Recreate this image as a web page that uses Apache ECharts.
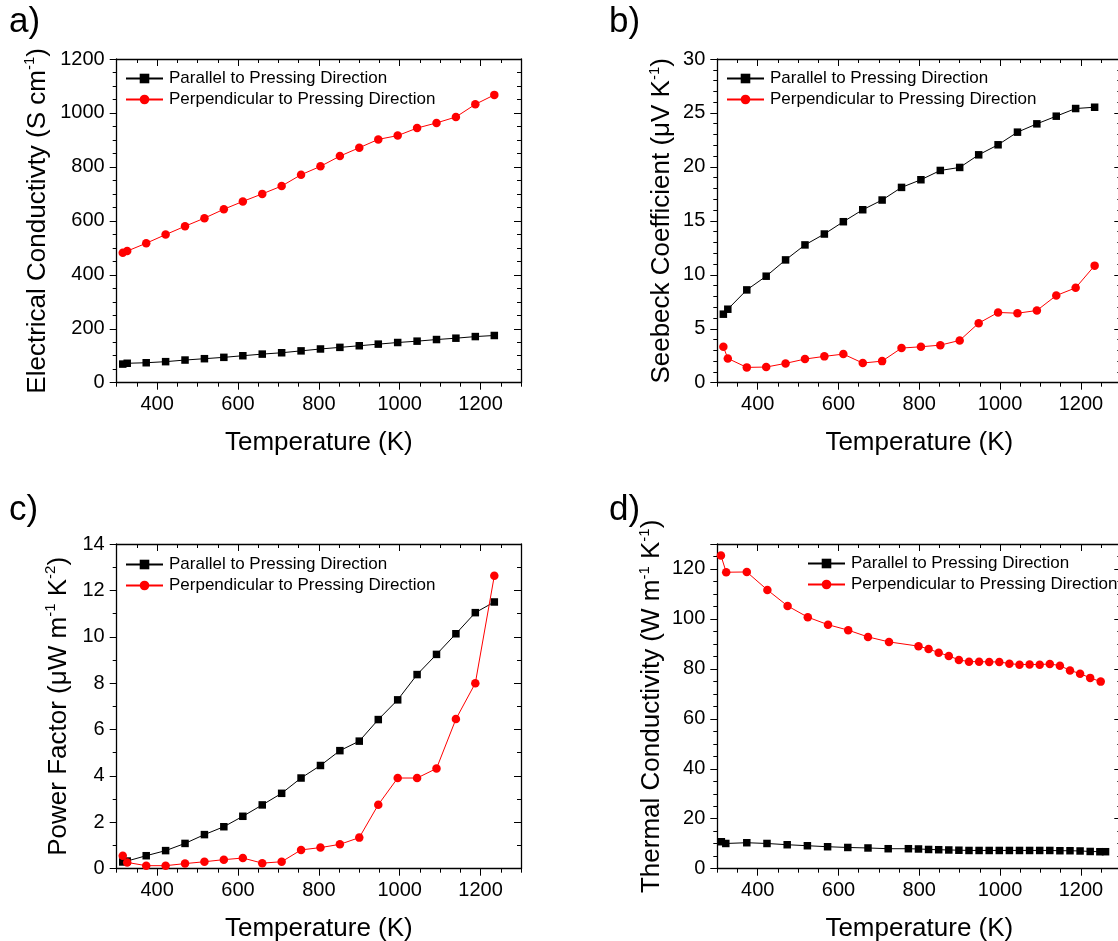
<!DOCTYPE html>
<html>
<head>
<meta charset="utf-8">
<script src="https://cdn.jsdelivr.net/npm/echarts@6/dist/echarts.min.js"></script>
<style>
html,body{margin:0;padding:0;background:#fff;}
#chart{width:1118px;height:941px;}
</style>
</head>
<body>
<div id="chart"></div>
<script>
// ---------- data ----------
var seriesNames = ['Parallel to Pressing Direction', 'Perpendicular to Pressing Direction'];
var xTickLabels = [400, 600, 800, 1000, 1200];

// temperatures (K) for panels a, b, c
var tempABC = [315, 326, 373, 421, 469, 517, 565, 612, 660, 708, 756, 804, 852, 900, 947, 995, 1043, 1091, 1139, 1187, 1234];

// a) electrical conductivity (S cm-1)
var condPar = [69, 72, 74, 78, 84, 89, 94, 100, 106, 111, 118, 125, 131, 137, 143, 149, 154, 160, 165, 171, 175];
var condPerp = [482, 488, 517, 549, 580, 610, 643, 672, 700, 729, 771, 802, 840, 871, 902, 916, 944, 963, 985, 1032, 1067];

// b) Seebeck coefficient (uV K-1)
var seebPar = [6.35, 6.81, 8.6, 9.87, 11.38, 12.77, 13.78, 14.92, 16.03, 16.93, 18.1, 18.81, 19.67, 19.95, 21.12, 22.05, 23.22, 23.99, 24.7, 25.41, 25.53];
var seebPerp = [3.33, 2.25, 1.42, 1.45, 1.79, 2.19, 2.44, 2.65, 1.82, 2.0, 3.21, 3.33, 3.48, 3.92, 5.52, 6.51, 6.44, 6.69, 8.08, 8.79, 10.85];

// c) power factor (uW m-1 K-2)
var pfPar = [0.29, 0.33, 0.56, 0.78, 1.09, 1.47, 1.81, 2.26, 2.75, 3.25, 3.91, 4.45, 5.09, 5.50, 6.43, 7.28, 8.37, 9.24, 10.13, 11.04, 11.5];
var pfPerp = [0.56, 0.27, 0.13, 0.13, 0.22, 0.30, 0.39, 0.46, 0.24, 0.30, 0.81, 0.91, 1.05, 1.34, 2.76, 3.91, 3.91, 4.32, 6.45, 8.0, 12.63];

// d) thermal conductivity (W m-1 K-1)
var tempDPar = [310, 321, 373, 423, 473, 523, 573, 623, 673, 723, 773, 798, 823, 848, 873, 898, 923, 948, 973, 998, 1023, 1048, 1073, 1098, 1123, 1148, 1173, 1198, 1223, 1247, 1261];
var kPar = [10.8, 10.1, 10.4, 10.1, 9.6, 9.2, 8.8, 8.5, 8.3, 8.0, 8.0, 7.9, 7.7, 7.6, 7.5, 7.4, 7.3, 7.3, 7.3, 7.3, 7.3, 7.3, 7.3, 7.3, 7.3, 7.2, 7.2, 7.1, 6.9, 6.8, 6.8];
var tempDPerp = [309, 322, 373, 424, 474, 524, 574, 624, 673, 725, 798, 823, 848, 873, 898, 923, 948, 973, 998, 1023, 1048, 1073, 1098, 1123, 1148, 1173, 1198, 1223, 1249];
var kPerp = [125.4, 118.7, 118.8, 111.6, 105.2, 100.7, 97.7, 95.5, 92.8, 90.8, 89.1, 88.0, 86.5, 85.2, 83.6, 82.9, 82.9, 82.8, 82.8, 82.1, 81.7, 81.8, 81.7, 82.0, 81.3, 79.4, 78.1, 76.4, 74.9];

var yTitles = [
  'Electrical Conductivty (S cm{sup|-1})',
  'Seebeck Coefficient (\u03bcV K{sup|-1})',
  'Power Factor (\u03bcW m{sup|-1} K{sup|-2})',
  'Thermal Conductivity (W m{sup|-1} K{sup|-1})'
];
var panelLabels = ['a)', 'b)', 'c)', 'd)'];

// ---------- layout ----------
var FONT = "'Liberation Sans', Arial, Helvetica, sans-serif";
var panels = [
  {left: 116.7, top: 59, width: 404.3, height: 323.7, ymax: 1200, yint: 200, ysplit: 4, nameGap: 64, legL: 125, legT: 70, lx: 9, ly: 25},
  {left: 717.3, top: 59, width: 404, height: 323.7, ymax: 30, yint: 5, ysplit: 5, nameGap: 40, legL: 726, legT: 70, lx: 609, ly: 25},
  {left: 116.7, top: 544, width: 404.3, height: 324.7, ymax: 14, yint: 2, ysplit: 2, nameGap: 43, legL: 125, legT: 556, lx: 9, ly: 513},
  {left: 717.3, top: 544, width: 404, height: 324.7, ymax: 130, yint: 20, ysplit: 4, nameGap: 50, legL: 807, legT: 555, lx: 609, ly: 513}
];
var seriesData = [
  [[tempABC, condPar], [tempABC, condPerp]],
  [[tempABC, seebPar], [tempABC, seebPerp]],
  [[tempABC, pfPar], [tempABC, pfPerp]],
  [[tempDPar, kPar], [tempDPerp, kPerp]]
];

function zip(xs, ys) { return xs.map(function (x, i) { return [x, ys[i]]; }); }

var axisColor = '#000';
var grids = [], xAxes = [], yAxes = [], series = [], legends = [], graphics = [];

panels.forEach(function (p, i) {
  grids.push({left: p.left, top: p.top, width: p.width, height: p.height, containLabel: false, outerBoundsMode: 'none'});
  var base = {gridIndex: i, type: 'value', min: 300, max: 1300, splitLine: {show: false}};
  xAxes.push(Object.assign({}, base, {position: 'bottom', interval: 50,
    axisLine: {show: true, onZero: false, lineStyle: {color: axisColor, width: 1.3}},
    axisTick: {show: true, length: 4, inside: false, lineStyle: {color: axisColor, width: 1}},
    axisLabel: {show: false}}));
  xAxes.push(Object.assign({}, base, {position: 'bottom', interval: 50,
    axisLine: {show: false, onZero: false},
    axisTick: {show: true, length: 7, inside: false, customValues: xTickLabels, lineStyle: {color: axisColor, width: 1}},
    axisLabel: {show: true, customValues: xTickLabels, fontSize: 20, color: '#000', fontFamily: FONT, margin: 12,
      formatter: function (v) { return String(v); }},
    name: 'Temperature (K)', nameLocation: 'middle', nameGap: 47,
    nameTextStyle: {fontSize: 26, color: '#000', fontFamily: FONT}}));
  xAxes.push(Object.assign({}, base, {position: 'top', interval: 50,
    axisLine: {show: true, onZero: false, lineStyle: {color: axisColor, width: 1.3}},
    axisTick: {show: true, length: 4, inside: true, lineStyle: {color: axisColor, width: 1}},
    axisLabel: {show: false}}));
  xAxes.push(Object.assign({}, base, {position: 'top', interval: 50,
    axisLine: {show: false, onZero: false},
    axisTick: {show: true, length: 7, inside: true, customValues: xTickLabels, lineStyle: {color: axisColor, width: 1}},
    axisLabel: {show: false}}));

  var yint = p.yint;
  var ybase = {gridIndex: i, type: 'value', min: 0, max: p.ymax, interval: p.yint, splitLine: {show: false}};
  yAxes.push(Object.assign({}, ybase, {position: 'left',
    axisLine: {show: true, onZero: false, lineStyle: {color: axisColor, width: 1.3}},
    axisTick: {show: true, length: 7, inside: false, lineStyle: {color: axisColor, width: 1}},
    minorTick: {show: true, splitNumber: p.ysplit, length: 4, lineStyle: {color: axisColor, width: 1}},
    axisLabel: {show: true, fontSize: 20, color: '#000', fontFamily: FONT, margin: 12,
      formatter: function (v) { return (Math.abs(v / yint - Math.round(v / yint)) < 1e-6) ? String(v) : ''; }},
    name: yTitles[i], nameLocation: 'middle', nameGap: p.nameGap, nameRotate: 90,
    nameTextStyle: {fontSize: 26, color: '#000', fontFamily: FONT,
      rich: {sup: {fontSize: 15, fontFamily: FONT, color: '#000', verticalAlign: 'top', lineHeight: 30}}}}));
  yAxes.push(Object.assign({}, ybase, {position: 'right',
    axisLine: {show: true, onZero: false, lineStyle: {color: axisColor, width: 1.3}},
    axisTick: {show: true, length: 7, inside: true, lineStyle: {color: axisColor, width: 1}},
    minorTick: {show: true, splitNumber: p.ysplit, length: 4, lineStyle: {color: axisColor, width: 1}},
    axisLabel: {show: false}}));

  var d = seriesData[i];
  series.push({name: seriesNames[0], type: 'line', xAxisIndex: i * 4, yAxisIndex: i * 2,
    data: zip(d[0][0], d[0][1]), symbol: 'rect', symbolSize: 7.5, showSymbol: true,
    itemStyle: {color: '#000'}, lineStyle: {color: '#000', width: 1}, z: 3});
  series.push({name: seriesNames[1], type: 'line', xAxisIndex: i * 4, yAxisIndex: i * 2,
    data: zip(d[1][0], d[1][1]), symbol: 'circle', symbolSize: 8.5, showSymbol: true,
    itemStyle: {color: '#ff0000'}, lineStyle: {color: '#ff0000', width: 1}, z: 4});

  legends.push({show: true, orient: 'vertical', left: p.legL, top: p.legT, padding: 0,
    itemGap: 4, itemWidth: 37, itemHeight: 12, data: seriesNames, selectedMode: false,
    textStyle: {fontSize: 17, color: '#000', fontFamily: FONT, lineHeight: 17, padding: [0, 0, 0, 1]}});

  graphics.push({type: 'text', left: p.lx, top: p.ly - 20, style: {text: panelLabels[i], font: "35px 'Liberation Sans', Arial, sans-serif", fill: '#000'}});
});

var chart = echarts.init(document.getElementById('chart'), null, {renderer: 'canvas'});
chart.setOption({
  animation: false,
  backgroundColor: '#fff',
  grid: grids,
  xAxis: xAxes,
  yAxis: yAxes,
  legend: legends,
  series: series,
  graphic: graphics
});
</script>
</body>
</html>
